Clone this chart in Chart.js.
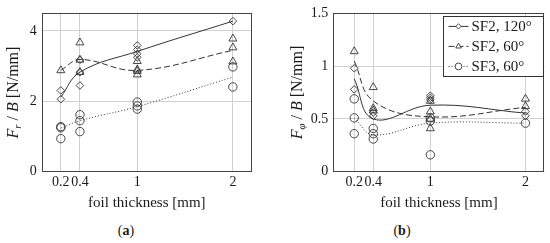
<!DOCTYPE html>
<html>
<head>
<meta charset="utf-8">
<title>Foil thickness forces</title>
<script src="https://cdn.jsdelivr.net/npm/chart.js@4.4.0/dist/chart.umd.min.js"></script>
<style>
    body { margin: 0; background: #fff; }
    #wrap { position: relative; width: 550px; height: 243px; overflow: hidden; }
    canvas { position: absolute; top: 0; }
    #chart-a { left: 0; }
    #chart-b { left: 275px; }
    .cap {
        position: absolute; top: 223px; width: 60px; text-align: center;
        font-family: "Liberation Serif", serif; font-size: 14px; color: #1a1a1a;
    }
</style>
</head>
<body>
<div id="wrap">
    <canvas id="chart-a" width="275" height="215"></canvas>
    <canvas id="chart-b" width="275" height="215"></canvas>
    <div class="cap" style="left:96px">(<b>a</b>)</div>
    <div class="cap" style="left:372px">(<b>b</b>)</div>
</div>
<script>
'use strict';

// foil thickness in mm (x positions) and the tick labels under them
var thickness = [0.2, 0.4, 1, 2];
var xTickLabels = ['0.2', '0.4', '1', '2'];
var seriesNames = ['SF2, 120°', 'SF2, 60°', 'SF3, 60°'];

// (a) F_r / B [N/mm] - measured points, grouped per thickness
var frSF2deg120 = [[2.31, 2.06], [3.18, 2.83, 2.45], [3.59, 3.47, 3.35, 3.25], [4.28]];
var frSF2deg60 = [[2.88], [3.67, 3.18, 2.83], [3.14, 2.90, 2.86, 2.76], [3.78, 3.53, 3.13]];
var frSF3deg60 = [[1.28, 1.25, 0.94], [1.62, 1.45, 1.14], [1.98, 1.87, 1.78], [2.98, 2.41]];
// (a) trend lines
var frFitSF2deg120 = [2.12, 2.83, 3.42, 4.28];
var frFitSF2deg60 = [2.88, 3.19, 2.88, 3.45];
var frFitSF3deg60 = [1.24, 1.45, 1.85, 2.69];
var frTicks = [0, 2, 4];
var frTickLabels = ['0', '2', '4'];

// (b) F_phi / B [N/mm] - measured points, grouped per thickness
var fpSF2deg120 = [[0.98, 0.78], [0.56, 0.53], [0.72, 0.70, 0.68], [0.57, 0.53]];
var fpSF2deg60 = [[1.14], [0.80, 0.60, 0.58], [0.67, 0.57, 0.50, 0.41], [0.69, 0.62]];
var fpSF3deg60 = [[0.69, 0.51, 0.36], [0.41, 0.36, 0.31], [0.51, 0.48, 0.16], [0.46]];
// (b) trend lines
var fpFitSF2deg120 = [0.88, 0.50, 0.63, 0.555];
var fpFitSF2deg60 = [1.05, 0.67, 0.52, 0.61];
var fpFitSF3deg60 = [0.51, 0.35, 0.46, 0.46];
var fpTicks = [0, 0.5, 1, 1.5];
var fpTickLabels = ['0', '0.5', '1', '1.5'];

var FONT = '"Liberation Serif", serif';
var TEXT = '#1a1a1a';
var INK = '#333333';
var GRID = '#d0d0d0';

Chart.defaults.font.family = FONT;
Chart.defaults.color = TEXT;

// marker + line look of each series (diamond/solid, triangle/dashed, circle/dotted)
var looks = [
    { point: 'rectRot', radius: 3.8, legendRadius: 2.6, dash: [] },
    { point: 'triangle', radius: 4.6, legendRadius: 3.2, dash: [6, 3] },
    { point: 'circle', radius: 4.2, legendRadius: 3.4, dash: [1, 2] }
];

function toPoints(groups) {
    var pts = [];
    var i, j;
    for (i = 0; i < groups.length; i++) {
        for (j = 0; j < groups[i].length; j++) {
            pts.push({ x: thickness[i], y: groups[i][j] });
        }
    }
    return pts;
}

function fitPoints(values) {
    var pts = [];
    var i;
    for (i = 0; i < values.length; i++) {
        pts.push({ x: thickness[i], y: values[i] });
    }
    return pts;
}

function buildDatasets(markerSets, fitSets) {
    var sets = [];
    var i;
    for (i = 0; i < markerSets.length; i++) {
        sets.push({
            label: seriesNames[i] + ' fit',
            data: fitPoints(fitSets[i]),
            showLine: true,
            tension: 0.4,
            borderColor: INK,
            borderWidth: 1,
            borderDash: looks[i].dash,
            pointRadius: 0,
            fill: false
        });
        sets.push({
            label: seriesNames[i],
            data: toPoints(markerSets[i]),
            showLine: false,
            pointStyle: looks[i].point,
            pointRadius: looks[i].radius,
            pointBorderWidth: 0.9,
            pointBorderColor: INK,
            pointBackgroundColor: 'rgba(0,0,0,0)'
        });
    }
    return sets;
}

// full box around the plot area
var framePlugin = {
    id: 'frame',
    beforeDatasetsDraw: function (chart) {
        var ca = chart.chartArea;
        var ctx = chart.ctx;
        ctx.save();
        ctx.strokeStyle = '#444';
        ctx.lineWidth = 1;
        ctx.strokeRect(Math.round(ca.left) + 0.5, Math.round(ca.top) + 0.5,
            Math.round(ca.right - ca.left) - 1, Math.round(ca.bottom - ca.top));
        ctx.restore();
    }
};

// y axis title with italic symbol and subscript
function yTitlePlugin(segments, glyphCenterX) {
    return {
        id: 'yTitle',
        afterDraw: function (chart) {
            var ctx = chart.ctx;
            var ca = chart.chartArea;
            var total = 0;
            var i, seg, x;
            ctx.save();
            ctx.translate(glyphCenterX + 5, (ca.top + ca.bottom) / 2);
            ctx.rotate(-Math.PI / 2);
            ctx.fillStyle = TEXT;
            ctx.textBaseline = 'alphabetic';
            ctx.textAlign = 'left';
            for (i = 0; i < segments.length; i++) {
                seg = segments[i];
                ctx.font = (seg.italic ? 'italic ' : '') + (seg.sub ? 11 : 16) + 'px ' + FONT;
                seg.w = ctx.measureText(seg.t).width;
                total += seg.w;
            }
            x = -total / 2;
            for (i = 0; i < segments.length; i++) {
                seg = segments[i];
                ctx.font = (seg.italic ? 'italic ' : '') + (seg.sub ? 11 : 16) + 'px ' + FONT;
                ctx.fillText(seg.t, x, seg.sub ? 3 : 0);
                x += seg.w;
            }
            ctx.restore();
        }
    };
}

// pgfplots-like legend box: line sample, marker, label
var legendPlugin = {
    id: 'boxLegend',
    afterDraw: function (chart) {
        var ctx = chart.ctx;
        var ca = chart.chartArea;
        var w = 100, h = 60;
        var bx = ca.right - w - 2, by = ca.top + 3;
        var i, cy;
        ctx.save();
        ctx.fillStyle = '#fff';
        ctx.fillRect(bx, by, w, h);
        ctx.strokeStyle = '#333';
        ctx.lineWidth = 1;
        ctx.strokeRect(Math.round(bx) + 0.5, Math.round(by) + 0.5, w, h);
        for (i = 0; i < seriesNames.length; i++) {
            cy = by + 10 + i * 20;
            ctx.strokeStyle = INK;
            ctx.lineWidth = 1;
            ctx.setLineDash(looks[i].dash);
            ctx.beginPath();
            ctx.moveTo(bx + 6, cy);
            ctx.lineTo(bx + 26, cy);
            ctx.stroke();
            ctx.setLineDash([]);
            ctx.lineWidth = 0.9;
            ctx.fillStyle = '#fff';
            Chart.helpers.drawPoint(ctx, {
                pointStyle: looks[i].point,
                radius: looks[i].legendRadius,
                borderWidth: 0.9,
                rotation: 0
            }, bx + 16, cy);
            ctx.fillStyle = TEXT;
            ctx.font = '15px ' + FONT;
            ctx.textBaseline = 'middle';
            ctx.textAlign = 'left';
            ctx.fillText(seriesNames[i], bx + 29, cy + 1);
        }
        ctx.restore();
    }
};

function makeChart(canvasId, cfg) {
    return new Chart(document.getElementById(canvasId), {
        type: 'scatter',
        data: { datasets: cfg.datasets },
        options: {
            responsive: false,
            animation: false,
            events: [],
            layout: { padding: { top: 12, right: cfg.padRight, left: 0, bottom: 0 } },
            plugins: { legend: { display: false }, tooltip: { enabled: false } },
            scales: {
                x: {
                    type: 'linear',
                    min: cfg.xMin,
                    max: 2.2,
                    afterBuildTicks: function (scale) {
                        scale.ticks = thickness.map(function (v) { return { value: v }; });
                    },
                    afterFit: function (scale) { scale.height = 215 - 171.7; },
                    ticks: {
                        autoSkip: false, maxRotation: 0, minRotation: 0, padding: 2,
                        color: TEXT, font: { family: FONT, size: 14 },
                        callback: function (v, i) { return xTickLabels[i]; }
                    },
                    grid: { color: GRID, drawTicks: false },
                    border: { display: false },
                    title: {
                        display: true, text: 'foil thickness [mm]', color: TEXT,
                        font: { family: FONT, size: 15 }, padding: { top: 0, bottom: 3 }
                    }
                },
                y: {
                    type: 'linear',
                    min: 0,
                    max: cfg.yMax,
                    afterBuildTicks: function (scale) {
                        scale.ticks = cfg.yTicks.map(function (v) { return { value: v }; });
                    },
                    afterFit: function (scale) { scale.width = cfg.axisWidth; },
                    ticks: {
                        padding: 5, color: TEXT, font: { family: FONT, size: 14 },
                        callback: function (v, i) { return cfg.yTickLabels[i]; }
                    },
                    grid: { color: GRID, drawTicks: false },
                    border: { display: false }
                }
            }
        },
        plugins: cfg.plugins
    });
}

makeChart('chart-a', {
    datasets: buildDatasets([frSF2deg120, frSF2deg60, frSF3deg60],
        [frFitSF2deg120, frFitSF2deg60, frFitSF3deg60]),
    yMax: 4.5,
    yTicks: frTicks,
    yTickLabels: frTickLabels,
    axisWidth: 41.7,
    padRight: 23,
    xMin: 0,
    plugins: [framePlugin, yTitlePlugin([
        { t: 'F', italic: true }, { t: 'r', italic: true, sub: true },
        { t: ' / ' }, { t: 'B', italic: true }, { t: ' [N/mm]' }
    ], 12.5)]
});

makeChart('chart-b', {
    datasets: buildDatasets([fpSF2deg120, fpSF2deg60, fpSF3deg60],
        [fpFitSF2deg120, fpFitSF2deg60, fpFitSF3deg60]),
    yMax: 1.5,
    yTicks: fpTicks,
    yTickLabels: fpTickLabels,
    axisWidth: 58.3,
    padRight: 5,
    xMin: -0.02,
    plugins: [framePlugin, legendPlugin, yTitlePlugin([
        { t: 'F', italic: true }, { t: 'φ', italic: true, sub: true },
        { t: ' / ' }, { t: 'B', italic: true }, { t: ' [N/mm]' }
    ], 22)]
});
</script>
</body>
</html>
